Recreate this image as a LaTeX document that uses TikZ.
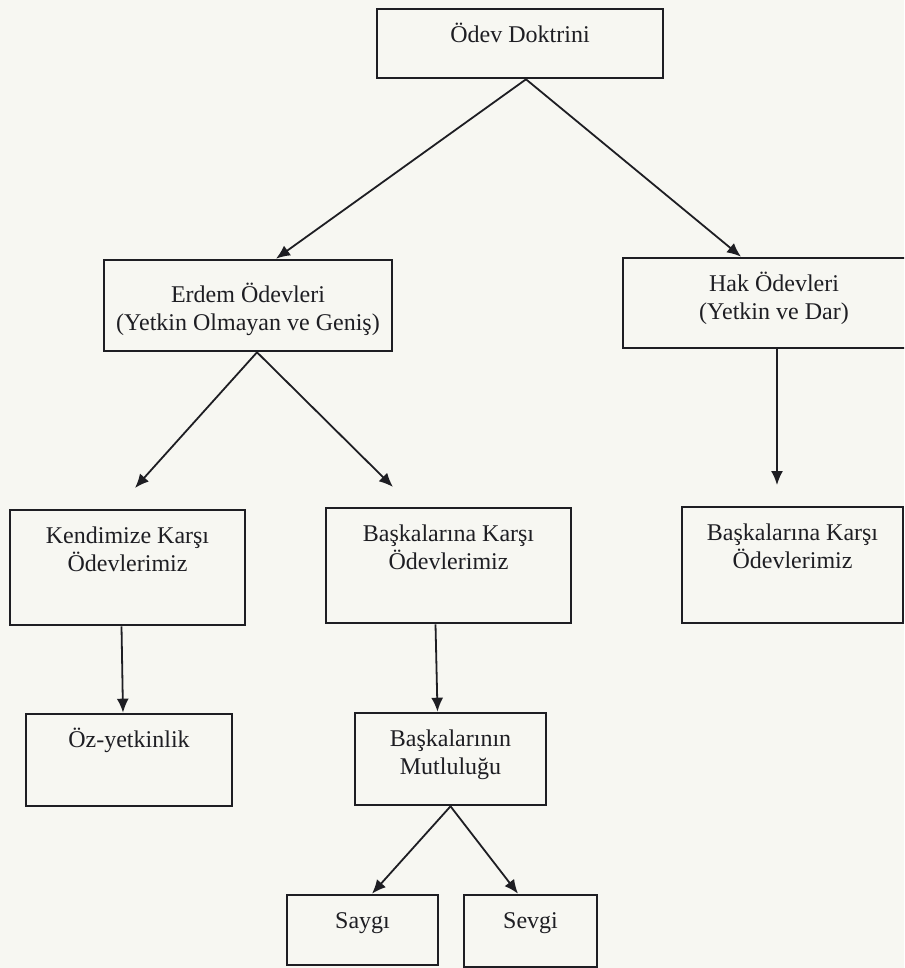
\documentclass[tikz,border=0pt]{standalone}
\usepackage{fontspec}
\setmainfont{Liberation Serif}
\usetikzlibrary{arrows.meta}
\definecolor{paper}{RGB}{247,247,242}
\definecolor{ink}{RGB}{30,30,35}
\newcommand{\boxfont}{\fontsize{12}{14}\selectfont}
\tikzset{
  box/.style={draw=ink,line width=1.3pt,inner sep=0pt},
  txt/.style={anchor=north,align=center,inner sep=0pt,yshift=-7.5pt,font=\boxfont,text=ink},
  arr/.style={draw=ink,line width=0.9pt,-{Latex[length=7pt,width=6pt]}},
}

\begin{document}
\begin{tikzpicture}[x=0.5pt,y=-0.5pt]
    \clip (0,0) rectangle (904,968);
    \fill[paper] (0,0) rectangle (904,968);
    \node[box,minimum width=143pt,minimum height=34.5pt,label={[txt]north:\strut Ödev Doktrini}] (odev) at (520,43.5) {};
    \node[box,minimum width=144pt,minimum height=45.5pt,label={[txt,yshift=-4.2pt]north:\strut Erdem Ödevleri\\(Yetkin Olmayan ve Geniş)}] (erdem) at (248,305.5) {};
    \node[box,minimum width=151pt,minimum height=45pt,label={[txt]north:\strut Hak Ödevleri\\(Yetkin ve Dar)}] (hak) at (774,303) {};
    \node[box,minimum width=117.5pt,minimum height=57.5pt,label={[txt]north:\strut Kendimize Karşı\\Ödevlerimiz}] (kend) at (127.5,567.5) {};
    \node[box,minimum width=122.5pt,minimum height=57.5pt,label={[txt]north:\strut Başkalarına Karşı\\Ödevlerimiz}] (bask1) at (448.5,565.5) {};
    \node[box,minimum width=110.5pt,minimum height=58pt,label={[txt]north:\strut Başkalarına Karşı\\Ödevlerimiz}] (bask2) at (792.5,565) {};
    \node[box,minimum width=103pt,minimum height=46pt,label={[txt]north:\strut Öz-yetkinlik}] (oz) at (129,760) {};
    \node[box,minimum width=95.5pt,minimum height=46pt,label={[txt]north:\strut Başkalarının\\Mutluluğu}] (mutlu) at (450.5,759) {};
    \node[box,minimum width=75.5pt,minimum height=35pt,label={[txt]north:\strut Saygı}] (saygi) at (362.5,930) {};
    \node[box,minimum width=66.5pt,minimum height=36pt,label={[txt]north:\strut Sevgi}] (sevgi) at (530.5,931) {};
    \coordinate (kendtip) at (135,488);
    \coordinate (bask1tip) at (393,487);
    \coordinate (bask2tip) at (777,485);
    \draw[arr] ([xshift=3pt]odev.south) -- ([xshift=14pt]erdem.north);
    \draw[arr] ([xshift=3pt]odev.south) -- ([xshift=-16.5pt]hak.north);
    \draw[arr] ([xshift=4.5pt]erdem.south) -- (kendtip);
    \draw[arr] ([xshift=4.5pt]erdem.south) -- (bask1tip);
    \draw[arr] (hak.south -| bask2tip) -- (bask2tip);
    \draw[arr] ([xshift=-3pt]kend.south) -- ([xshift=-3pt]oz.north);
    \draw[arr] ([xshift=-6.5pt]bask1.south) -- ([xshift=-6.5pt]mutlu.north);
    \draw[arr] (mutlu.south) -- ([xshift=4.75pt]saygi.north);
    \draw[arr] (mutlu.south) -- ([xshift=-6.25pt]sevgi.north);
\end{tikzpicture}
\end{document}
